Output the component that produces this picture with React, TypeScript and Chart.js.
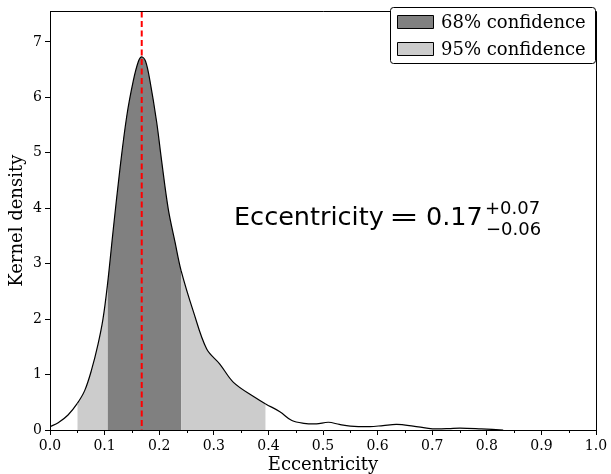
import React, { useEffect, useRef } from 'react';
import { Chart, registerables } from 'chart.js';

Chart.register(...registerables);

// Kernel density estimate of eccentricity
const kdeX = [
  0.0, 0.015, 0.033, 0.05, 0.0635, 0.0757, 0.088, 0.097, 0.105, 0.116, 0.128, 0.1404,
  0.1526, 0.162, 0.168, 0.175, 0.183, 0.1954, 0.2045, 0.2167, 0.229, 0.24, 0.2625,
  0.287, 0.311, 0.336, 0.375, 0.395, 0.421, 0.443, 0.465, 0.488, 0.51, 0.53, 0.55,
  0.586, 0.61, 0.635, 0.665, 0.693, 0.708, 0.73, 0.751, 0.79, 0.83,
];
const kdeY = [
  0.06, 0.13, 0.27, 0.48, 0.71, 1.07, 1.55, 2.0, 2.6, 3.63, 4.7, 5.65,
  6.3, 6.65, 6.73, 6.65, 6.3, 5.55, 4.85, 3.98, 3.39, 2.88, 2.14,
  1.46, 1.19, 0.86, 0.59, 0.47, 0.33, 0.17, 0.12, 0.11, 0.14, 0.1, 0.07,
  0.06, 0.08, 0.1, 0.07, 0.03, 0.02, 0.025, 0.035, 0.02, 0.0,
];
const medianValue = 0.168;
const ci68 = [0.105, 0.24];
const ci95 = [0.05, 0.395];
const xRange = [0, 1];
const yRange = [0, 7.55];
const xMinorTicks = [0.05, 0.15, 0.25, 0.35, 0.45, 0.55, 0.65, 0.75, 0.85, 0.95];
const legendLabels = ['68% confidence', '95% confidence'];
const annotationMain = 'Eccentricity';
const annotationValue = '0.17';
const annotationPlus = '+0.07';
const annotationMinus = '\u22120.06';
const xTitle = 'Eccentricity';
const yTitle = 'Kernel density';

const DARK = '#808080';
const LIGHT = '#cccccc';

const decorPlugin = {
  id: 'decor',
  afterDraw(chart: any) {
    const { ctx, chartArea: a, scales } = chart;
    ctx.save();
    // top & right spines
    ctx.strokeStyle = '#000';
    ctx.lineWidth = 1;
    ctx.beginPath();
    ctx.moveTo(a.left, Math.round(a.top) + 0.5);
    ctx.lineTo(Math.round(a.right) + 0.5, Math.round(a.top) + 0.5);
    ctx.lineTo(Math.round(a.right) + 0.5, a.bottom);
    ctx.stroke();
    // minor x ticks
    ctx.beginPath();
    for (const v of xMinorTicks) {
      const px = Math.round(scales.x.getPixelForValue(v)) + 0.5;
      ctx.moveTo(px, a.bottom);
      ctx.lineTo(px, a.bottom + 3);
    }
    ctx.stroke();

    // annotation text
    ctx.fillStyle = '#000';
    ctx.textBaseline = 'alphabetic';
    ctx.textAlign = 'left';
    ctx.font = '25.5px "DejaVu Sans"';
    ctx.fillText(annotationMain, 234, 225);
    ctx.save();
    ctx.translate(389, 225);
    ctx.scale(1.4, 1);
    ctx.fillText('=', 0, 0);
    ctx.restore();
    ctx.fillText(annotationValue, 426, 225);
    ctx.font = '18px "DejaVu Sans"';
    ctx.fillText(annotationPlus, 485, 214);
    ctx.fillText(annotationMinus, 486, 235);

    // legend
    const lx = 390.5, ly = 7.5, lw = 205, lh = 56;
    ctx.beginPath();
    (ctx as any).roundRect(lx, ly, lw, lh, 3);
    ctx.fillStyle = '#fff';
    ctx.fill();
    ctx.strokeStyle = '#000';
    ctx.stroke();
    const colors = [DARK, LIGHT];
    ctx.font = '18px "DejaVu Serif"';
    legendLabels.forEach((lab, i) => {
      const sy = 15.5 + i * 27;
      ctx.beginPath();
      ctx.rect(397.5, sy, 36, 13);
      ctx.fillStyle = colors[i];
      ctx.fill();
      ctx.strokeStyle = '#000';
      ctx.stroke();
      ctx.fillStyle = '#000';
      ctx.fillText(lab, 441, 28 + i * 27);
    });
    ctx.restore();
  },
};

export default function App() {
  const ref = useRef<HTMLCanvasElement | null>(null);
  useEffect(() => {
    if (!ref.current) return;
    const eps = 1e-9;
    const chart = new Chart(ref.current, {
      type: 'line',
      data: {
        datasets: [
          {
            label: 'median',
            data: [
              { x: medianValue, y: yRange[1] },
              { x: medianValue, y: 0 },
            ],
            borderColor: '#ff0000',
            borderWidth: 2,
            borderDash: [6, 3.5],
            pointRadius: 0,
            fill: false,
          },
          {
            label: 'kde',
            data: kdeX.map((x, i) => ({ x, y: kdeY[i] })),
            borderColor: '#000',
            borderWidth: 1.2,
            pointRadius: 0,
            tension: 0.35,
            fill: 'origin',
            backgroundColor: 'rgba(0,0,0,0)',
            segment: {
              backgroundColor: (c: any) => {
                const x = c.p0.parsed.x;
                if (x >= ci68[0] - eps && x < ci68[1] - eps) return DARK;
                if (x >= ci95[0] - eps && x < ci95[1] - eps) return LIGHT;
                return 'rgba(0,0,0,0)';
              },
            },
          },
        ],
      },
      options: {
        responsive: false,
        animation: false,
        devicePixelRatio: 1,
        layout: { padding: { top: 7, right: 15, left: 0, bottom: 0 } },
        plugins: { legend: { display: false }, tooltip: { enabled: false } },
        scales: {
          x: {
            type: 'linear',
            min: xRange[0],
            max: xRange[1],
            afterFit: (s: any) => {
              s.height = 44;
            },
            ticks: {
              stepSize: 0.1,
              includeBounds: false,
              autoSkip: false,
              maxRotation: 0,
              color: '#000',
              padding: 3,
              font: { family: 'DejaVu Serif', size: 14 },
              callback: (v: any) => Number(v).toFixed(1),
            },
            grid: { drawOnChartArea: false, drawTicks: true, tickLength: 5, tickColor: '#000', tickWidth: 1 },
            border: { color: '#000', width: 1 },
            title: {
              display: true,
              text: xTitle,
              color: '#000',
              font: { family: 'DejaVu Serif', size: 18, lineHeight: 1 },
              padding: { top: 0, bottom: 0 },
            },
          },
          y: {
            type: 'linear',
            min: yRange[0],
            max: yRange[1],
            afterFit: (s: any) => {
              s.width = 50;
            },
            ticks: {
              stepSize: 1,
              includeBounds: false,
              color: '#000',
              padding: 3,
              font: { family: 'DejaVu Serif', size: 14 },
            },
            grid: { drawOnChartArea: false, drawTicks: true, tickLength: 5, tickColor: '#000', tickWidth: 1 },
            border: { color: '#000', width: 1 },
            title: {
              display: true,
              text: yTitle,
              color: '#000',
              font: { family: 'DejaVu Serif', size: 18, lineHeight: 1 },
              padding: { top: 8, bottom: 0 },
            },
          },
        },
      },
      plugins: [decorPlugin],
    } as any);
    return () => chart.destroy();
  }, []);
  return (
    <div style={{ position: 'absolute', left: 0, top: 0, width: 611, height: 474 }}>
      <canvas ref={ref} width={611} height={474} style={{ display: 'block' }} />
    </div>
  );
}
